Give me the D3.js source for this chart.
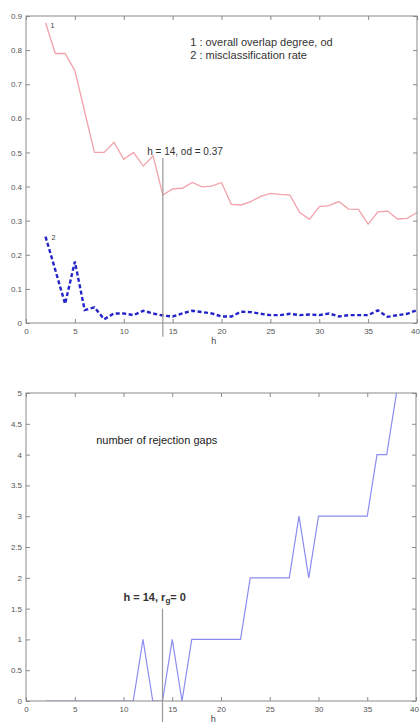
<!DOCTYPE html>
<html>
<head>
<meta charset="utf-8">
<script src="https://cdnjs.cloudflare.com/ajax/libs/d3/7.8.5/d3.min.js"></script>
<style>
  body { margin: 0; background: #fff; }
  svg { display: block; font-family: "Liberation Sans", Arial, sans-serif; }
  .tick text { fill: #555; font-size: 8px; }
  .tick line { stroke: #8a8a8a; }
  .domain { display: none; }
</style>
</head>
<body>
<script>
// データ
var hValues = [2, 3, 4, 5, 6, 7, 8, 9, 10, 11, 12, 13, 14, 15, 16, 17, 18, 19, 20, 21,
               22, 23, 24, 25, 26, 27, 28, 29, 30, 31, 32, 33, 34, 35, 36, 37, 38, 39, 40];

// 1 : overall overlap degree, od
var overlapDegree = [0.88, 0.79, 0.79, 0.74, 0.62, 0.50, 0.50, 0.53, 0.48, 0.50, 0.46, 0.49, 0.375,
                     0.393, 0.395, 0.412, 0.399, 0.401, 0.412, 0.348, 0.346, 0.356, 0.371, 0.38,
                     0.377, 0.375, 0.324, 0.304, 0.341, 0.344, 0.356, 0.334, 0.333, 0.29, 0.326,
                     0.328, 0.305, 0.307, 0.324];

// 2 : misclassification rate
var misclassRate = [0.253, 0.155, 0.056, 0.18, 0.038, 0.046, 0.011, 0.028, 0.028, 0.023, 0.036,
                    0.028, 0.022, 0.019, 0.028, 0.036, 0.032, 0.028, 0.019, 0.019, 0.033, 0.032,
                    0.027, 0.023, 0.023, 0.027, 0.023, 0.025, 0.023, 0.028, 0.019, 0.023, 0.023,
                    0.023, 0.037, 0.018, 0.023, 0.027, 0.038];

// number of rejection gaps
var rejectionGaps = [0, 0, 0, 0, 0, 0, 0, 0, 0, 0, 1, 0, 0, 1, 0, 1, 1, 1, 1, 1,
                     1, 2, 2, 2, 2, 2, 3, 2, 3, 3, 3, 3, 3, 3, 4, 4, 5, 6, 6];

var xTicks = [0, 5, 10, 15, 20, 25, 30, 35, 40];
var yTicksTop = [0, 0.1, 0.2, 0.3, 0.4, 0.5, 0.6, 0.7, 0.8, 0.9];
var yTicksBottom = [0, 0.5, 1, 1.5, 2, 2.5, 3, 3.5, 4, 4.5, 5];

var selectedH = 14;

var svg = d3.select("body").append("svg")
    .attr("width", 420)
    .attr("height", 727);

// 軸つきの枠を描く（線の後に描いて枠を上に重ねる）
function drawFrame(g, x, y, yTicks, yFormat) {
  var w = x.range()[1] - x.range()[0];
  var h = y.range()[0] - y.range()[1];

  var xAxis = g.append("g")
      .attr("transform", "translate(0," + h + ")")
      .call(d3.axisBottom(x).tickValues(xTicks).tickSizeInner(-4).tickSizeOuter(0).tickPadding(5));
  // 右端の40が切れないように少し寄せる
  xAxis.selectAll(".tick text").filter(function(d) { return d === 40; }).attr("dx", -2);

  g.append("g")
      .call(d3.axisTop(x).tickValues(xTicks).tickSizeInner(-4).tickSizeOuter(0).tickFormat(""));
  g.append("g")
      .call(d3.axisLeft(y).tickValues(yTicks).tickSizeInner(-4).tickSizeOuter(0).tickPadding(4).tickFormat(yFormat));
  g.append("g")
      .attr("transform", "translate(" + w + ",0)")
      .call(d3.axisRight(y).tickValues(yTicks).tickSizeInner(-4).tickSizeOuter(0).tickFormat(""));

  g.append("rect")
      .attr("width", w)
      .attr("height", h)
      .attr("fill", "none")
      .attr("stroke", "#8a8a8a");

  g.append("text")
      .attr("x", x(19.2))
      .attr("y", h + 21)
      .attr("text-anchor", "middle")
      .attr("font-size", 9)
      .attr("fill", "#444")
      .text("h");
}

// ---------- 上のグラフ ----------
var top1 = {left: 26, top: 16, width: 391, height: 307};
var x1 = d3.scaleLinear().domain([0, 40]).range([0, top1.width]);
var y1 = d3.scaleLinear().domain([0, 0.9]).range([top1.height, 0]);

var g1 = svg.append("g")
    .attr("transform", "translate(" + top1.left + "," + top1.top + ")");

var line1 = d3.line()
    .x(function(d, i) { return x1(hValues[i]); })
    .y(function(d) { return y1(d); });

g1.append("path")
    .attr("d", line1(overlapDegree))
    .attr("fill", "none")
    .attr("stroke", "#f2a2aa")
    .attr("stroke-width", 1.3);

g1.append("path")
    .attr("d", line1(misclassRate))
    .attr("fill", "none")
    .attr("stroke", "#2424c8")
    .attr("stroke-width", 2.4)
    .attr("stroke-dasharray", "4,2.5");

drawFrame(g1, x1, y1, yTicksTop, function(d) { return d === 0 ? "0" : d3.format(".1f")(d); });

// h = 14 の縦線
g1.append("line")
    .attr("x1", x1(selectedH)).attr("x2", x1(selectedH))
    .attr("y1", y1(0.484)).attr("y2", y1(-0.04))
    .attr("stroke", "#999")
    .attr("stroke-width", 1.2);

g1.append("text")
    .attr("x", x1(12.4)).attr("y", y1(0.493))
    .attr("font-size", 10).attr("fill", "#333")
    .text("h = 14, od = 0.37");

g1.append("text")
    .attr("x", x1(2.5)).attr("y", y1(0.865))
    .attr("font-size", 7).attr("fill", "#333")
    .text("1");
g1.append("text")
    .attr("x", x1(2.6)).attr("y", y1(0.243))
    .attr("font-size", 7).attr("fill", "#333")
    .text("2");

g1.append("text")
    .attr("x", x1(16.8)).attr("y", 30)
    .attr("font-size", 11).attr("fill", "#333")
    .text("1 : overall overlap degree, od");
g1.append("text")
    .attr("x", x1(16.8)).attr("y", 43)
    .attr("font-size", 11).attr("fill", "#333")
    .text("2 : misclassification rate");

// ---------- 下のグラフ ----------
var bot = {left: 26, top: 393, width: 390, height: 308};
var x2 = d3.scaleLinear().domain([0, 40]).range([0, bot.width]);
var y2 = d3.scaleLinear().domain([0, 5]).range([bot.height, 0]);

var g2 = svg.append("g")
    .attr("transform", "translate(" + bot.left + "," + bot.top + ")");

g2.append("clipPath")
    .attr("id", "clipBottom")
    .append("rect")
    .attr("width", bot.width)
    .attr("height", bot.height);

var line2 = d3.line()
    .x(function(d, i) { return x2(hValues[i]); })
    .y(function(d) { return y2(d); });

g2.append("path")
    .attr("d", line2(rejectionGaps))
    .attr("clip-path", "url(#clipBottom)")
    .attr("fill", "none")
    .attr("stroke", "#8c8cf0")
    .attr("stroke-width", 1.2);

drawFrame(g2, x2, y2, yTicksBottom, function(d) { return String(d); });

g2.append("line")
    .attr("x1", x2(selectedH)).attr("x2", x2(selectedH))
    .attr("y1", y2(1.5)).attr("y2", y2(-0.34))
    .attr("stroke", "#999")
    .attr("stroke-width", 1.2);

var lab = g2.append("text")
    .attr("x", x2(10)).attr("y", y2(1.62))
    .attr("font-size", 11).attr("font-weight", "bold").attr("fill", "#333");
lab.append("tspan").text("h = 14, r");
lab.append("tspan").attr("font-size", 8).attr("dy", 2).text("g");
lab.append("tspan").attr("dy", -2).text("= 0");

g2.append("text")
    .attr("x", x2(7.2)).attr("y", y2(4.18))
    .attr("font-size", 11).attr("fill", "#222")
    .text("number of rejection gaps");
</script>
</body>
</html>
